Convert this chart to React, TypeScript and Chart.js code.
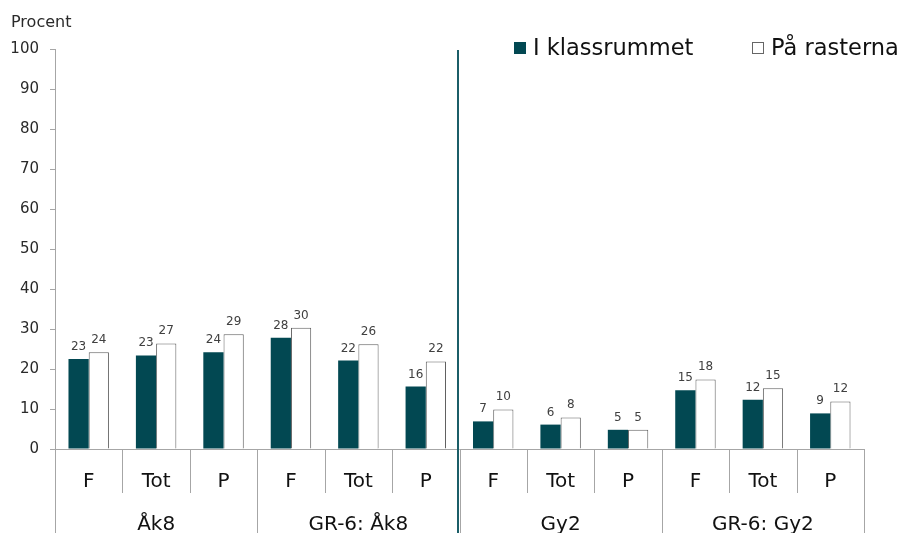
import React, { useEffect, useRef } from "react";
import { Chart, registerables } from "chart.js";

Chart.register(...registerables);

const subCategories = ["F", "Tot", "P", "F", "Tot", "P", "F", "Tot", "P", "F", "Tot", "P"];
const groups = ["Åk8", "GR-6: Åk8", "Gy2", "GR-6: Gy2"];
const klassrummet = [22.5, 23.4, 24.2, 27.8, 22.1, 15.6, 6.9, 6.1, 4.8, 14.7, 12.3, 8.9];
const klassrummetLabels = ["23", "23", "24", "28", "22", "16", "7", "6", "5", "15", "12", "9"];
const rasterna = [24.2, 26.4, 28.7, 30.3, 26.2, 21.9, 9.9, 7.9, 4.8, 17.4, 15.2, 11.9];
const rasternaLabels = ["24", "27", "29", "30", "26", "22", "10", "8", "5", "18", "15", "12"];
const seriesNames = ["I klassrummet", "På rasterna"];
const yTitle = "Procent";

const DARK = "#024852";
const GRID = "#a6a6a6";
const TEXT = "#2a2a2a";
const FONT = "'DejaVu Sans', Verdana, sans-serif";

const customPlugin = {
  id: "custom",
  afterDraw(chart: any) {
    const ctx = chart.ctx;
    const area = chart.chartArea;
    const x = chart.scales.x;
    const n = subCategories.length;
    const w = (area.right - area.left) / n;
    const bottom = chart.height;
    ctx.save();
    // baseline & category boxes
    ctx.strokeStyle = GRID;
    ctx.lineWidth = 1;
    ctx.beginPath();
    ctx.moveTo(area.left, area.bottom + 0.5);
    ctx.lineTo(area.right, area.bottom + 0.5);
    for (let i = 0; i <= n; i++) {
      const px = Math.round(area.left + i * w) + 0.5;
      const isGroup = i % 3 === 0;
      ctx.moveTo(px, area.bottom);
      ctx.lineTo(px, isGroup ? bottom : area.bottom + 44);
    }
    ctx.stroke();
    // sub labels
    ctx.fillStyle = "#111111";
    ctx.font = `20px ${FONT}`;
    ctx.textAlign = "center";
    ctx.textBaseline = "alphabetic";
    for (let i = 0; i < n; i++) {
      const cx = x.getPixelForValue(i);
      ctx.fillText(subCategories[i], cx, area.bottom + 38);
    }
    for (let g = 0; g < groups.length; g++) {
      const cx = area.left + (g * 3 + 1.5) * w;
      ctx.fillText(groups[g], cx, area.bottom + 81);
    }
    // divider line
    const dx = area.left + 6 * w - 1.5;
    ctx.strokeStyle = "#1b5e68";
    ctx.lineWidth = 2;
    ctx.beginPath();
    ctx.moveTo(dx, area.top + 1);
    ctx.lineTo(dx, bottom);
    ctx.stroke();
    // value labels
    ctx.fillStyle = "#404040";
    ctx.font = `12px ${FONT}`;
    ctx.textBaseline = "alphabetic";
    const labelSets = [klassrummetLabels, rasternaLabels];
    chart.data.datasets.forEach((ds: any, di: number) => {
      const meta = chart.getDatasetMeta(di);
      meta.data.forEach((bar: any, i: number) => {
        ctx.fillText(labelSets[di][i], bar.x, bar.y - 9);
      });
    });
    // legend
    ctx.font = `22.5px ${FONT}`;
    ctx.textAlign = "left";
    ctx.fillStyle = DARK;
    ctx.fillRect(514, 42, 12, 12);
    ctx.fillStyle = "#111111";
    ctx.fillText(seriesNames[0], 533, 55);
    ctx.fillStyle = "#ffffff";
    ctx.fillRect(752, 42, 12, 12);
    ctx.strokeStyle = "#666666";
    ctx.lineWidth = 1;
    ctx.strokeRect(752.5, 42.5, 11, 11);
    ctx.fillStyle = "#111111";
    ctx.fillText(seriesNames[1], 771, 55);
    // y title
    ctx.font = `16px ${FONT}`;
    ctx.fillStyle = TEXT;
    ctx.fillText(yTitle, 11, 27);
    ctx.restore();
  },
};

export default function App() {
  const ref = useRef<HTMLCanvasElement>(null);
  useEffect(() => {
    document.body.style.margin = "0";
    const canvas = ref.current!;
    const chart = new Chart(canvas, {
      type: "bar",
      data: {
        labels: subCategories.map((s, i) => `${groups[Math.floor(i / 3)]} ${s}`),
        datasets: [
          {
            label: seriesNames[0],
            data: klassrummet,
            backgroundColor: DARK,
            borderColor: DARK,
            borderWidth: 0,
            categoryPercentage: 0.6,
            barPercentage: 1,
          },
          {
            label: seriesNames[1],
            data: rasterna,
            backgroundColor: "#ffffff",
            borderColor: "#5f5f5f",
            borderWidth: 1,
            borderSkipped: "bottom",
            categoryPercentage: 0.6,
            barPercentage: 1,
          },
        ],
      },
      options: {
        responsive: false,
        animation: false,
        devicePixelRatio: 1,
        layout: { padding: { top: 49, right: 39, bottom: 84, left: 0 } },
        plugins: { legend: { display: false }, tooltip: { enabled: false } },
        scales: {
          x: { display: false },
          y: {
            min: 0,
            max: 100,
            ticks: {
              stepSize: 10,
              padding: 11,
              color: TEXT,
              font: { family: FONT, size: 15 },
            },
            grid: {
              display: true,
              drawOnChartArea: false,
              drawTicks: true,
              tickLength: 5,
              color: GRID,
            },
            border: { display: true, color: GRID },
            afterFit: (s: any) => {
              s.width = 55;
            },
          },
        },
      },
      plugins: [customPlugin],
    });
    return () => chart.destroy();
  }, []);
  return (
    <div style={{ width: 903, height: 533, background: "#fff" }}>
      <canvas ref={ref} width={903} height={533} style={{ width: 903, height: 533, display: "block" }} />
    </div>
  );
}
